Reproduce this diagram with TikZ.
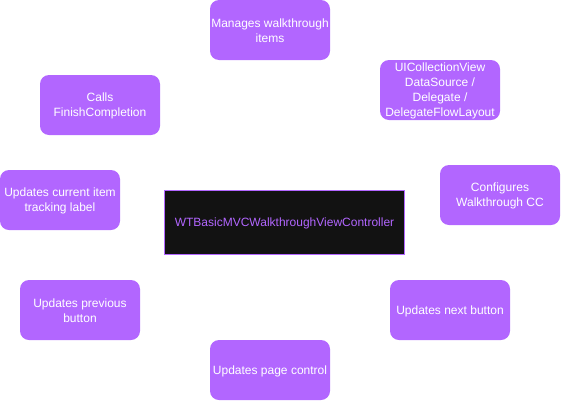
\documentclass[tikz,border=0pt]{standalone}
\usepackage{fontspec}
\setmainfont{Liberation Sans}
\definecolor{vio}{HTML}{B266FF}
\definecolor{dark}{HTML}{121212}
\begin{document}
\begin{tikzpicture}[x=1pt,y=-1pt,
  item/.style={fill=vio,text=white,rounded corners=9pt,align=center,font=\fontsize{12}{15.2}\selectfont,inner sep=0pt},
  core/.style={fill=dark,draw=vio,line width=1pt,text=vio,align=center,font=\fontsize{12}{15.2}\selectfont,inner sep=0pt}]
\useasboundingbox (0,0) rectangle (562,402);
\newcommand{\itembox}[6]{\path[item] (#2,#3) rectangle (#4,#5) node[midway,yshift=-1pt] (#1) {#6};}
\itembox{manages}{210}{0}{330}{60}{Manages walkthrough\\items}
\itembox{uicv}{380}{60}{500}{120}{UICollectionView\\DataSource /\\Delegate /\\DelegateFlowLayout}
\itembox{calls}{40}{75}{160}{135}{Calls\\FinishCompletion}
\itembox{current}{0}{170}{120}{230}{Updates current item\\tracking label}
\itembox{config}{440}{165}{560}{225}{Configures\\Walkthrough CC}
\itembox{prev}{20}{280}{140}{340}{Updates previous\\button}
\itembox{next}{390}{280}{510}{340}{Updates next button}
\itembox{page}{210}{340}{330}{400}{Updates page control}
\path[core] (164.5,190.5) rectangle (404.5,254.5) node[midway,yshift=-1pt] (main) {WTBasicMVCWalkthroughViewController};
\end{tikzpicture}
\end{document}
